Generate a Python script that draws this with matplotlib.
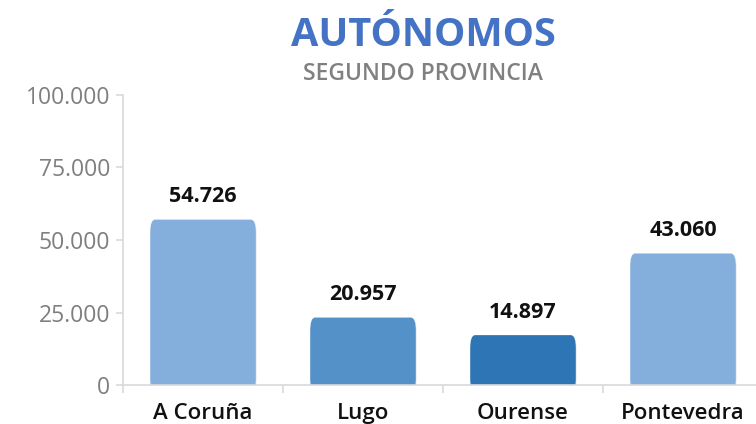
import matplotlib
matplotlib.use("Agg")
import matplotlib.pyplot as plt
from matplotlib.patches import FancyBboxPatch
from matplotlib.ticker import FuncFormatter, FixedLocator

provincias = ["A Coruña", "Lugo", "Ourense", "Pontevedra"]
autonomos = [54726, 20957, 14897, 43060]
colores = ["#84AEDB", "#5591C9", "#2E75B6", "#84AEDB"]
yticks = [0, 25000, 50000, 75000, 100000]

def fmt(v):
    return f"{int(round(v)):,}".replace(",", ".")

W, H = 756, 424
fig = plt.figure(figsize=(W / 100, H / 100), dpi=100)
fig.patch.set_facecolor("white")
ax = fig.add_axes([123 / W, 39 / H, 640 / W, 290 / H])
ax.set_facecolor("white")

x = list(range(len(provincias)))
bars = ax.bar(x, autonomos, width=0.66, color=colores, zorder=2)
pad_y = 2300
for b, c in zip(bars, colores):
    bx, by = b.get_x(), b.get_y()
    bw, bh = b.get_width(), b.get_height()
    b.set_visible(False)
    sh = FancyBboxPatch((bx + 0.02, by), bw - 0.03, bh - 300,
                        boxstyle="round,pad=0.015,rounding_size=0.03",
                        mutation_aspect=pad_y / 0.015,
                        facecolor="#e6e6e6", edgecolor="none", zorder=1)
    ax.add_patch(sh)
    p = FancyBboxPatch((bx + 0.015, by), bw - 0.03, bh,
                       boxstyle="round,pad=0.015,rounding_size=0.03",
                       mutation_aspect=pad_y / 0.015,
                       facecolor=c, edgecolor="none", zorder=2)
    ax.add_patch(p)
    ax.text(b.get_x() + bw / 2, bh + pad_y + 4200, fmt(bh), ha="center", va="bottom",
            fontsize=15.5, fontweight="bold", color="#111111", family="Open Sans")

ax.set_xlim(-0.5, len(provincias) - 0.5)
ax.set_ylim(0, 100000)
ax.yaxis.set_major_locator(FixedLocator(yticks))
ax.yaxis.set_major_formatter(FuncFormatter(lambda v, p: fmt(v)))
ax.set_xticks(x)
ax.set_xticklabels(provincias)
ax.set_xticks([i - 0.5 for i in range(len(provincias) + 1)], minor=True)

for s in ["top", "right"]:
    ax.spines[s].set_visible(False)
for s in ["left", "bottom"]:
    ax.spines[s].set_color("#d9d9d9")
    ax.spines[s].set_linewidth(1.2)

ax.tick_params(axis="y", length=5, width=1.2, color="#d9d9d9", labelsize=16.5,
               labelcolor="#7f7f7f", pad=4)
ax.tick_params(axis="x", which="major", length=0, labelsize=16, labelcolor="#111111", pad=13)
ax.tick_params(axis="x", which="minor", length=6, width=1.2, color="#d9d9d9")
for lab in ax.get_xticklabels() + ax.get_yticklabels():
    lab.set_family("Open Sans")
for lab in ax.get_xticklabels():
    lab.set_fontweight("semibold")

fig.text(423 / W, 1 - 35 / H, "AUTÓNOMOS", ha="center", va="center",
         fontsize=28.5, fontweight="bold", color="#4472C4", family="Open Sans")
fig.text(423 / W, 1 - 74 / H, "SEGUNDO PROVINCIA", ha="center", va="center",
         fontsize=16.5, fontweight="semibold", color="#808080", family="Open Sans")

fig.savefig("out.png", dpi=100, facecolor="white")
